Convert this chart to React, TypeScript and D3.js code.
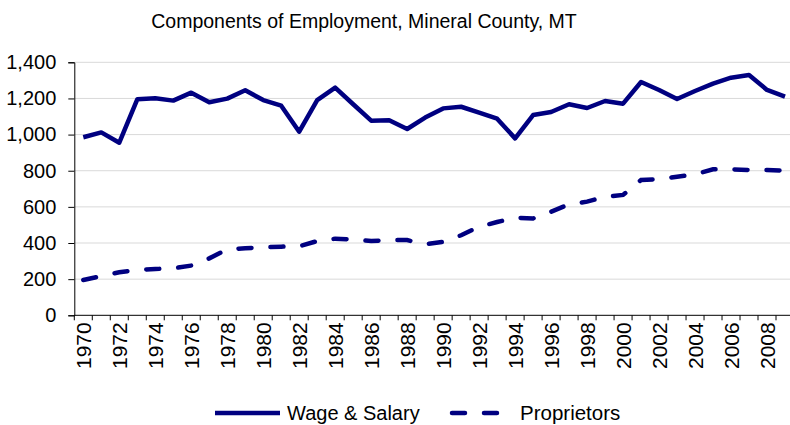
import { useEffect, useRef } from "react";
import * as d3 from "d3";

const years = d3.range(1970, 2010);

const wageSalary = [
  985, 1012, 955, 1195, 1201, 1188, 1232, 1179, 1199, 1245,
  1191, 1160, 1016, 1191, 1260, 1168, 1077, 1079, 1031, 1094,
  1145, 1154, 1121, 1088, 979, 1108, 1125, 1168, 1147, 1186,
  1171, 1291, 1247, 1197, 1241, 1282, 1315, 1330, 1247, 1210,
];

const proprietors = [
  195, 217, 238, 252, 256, 260, 275, 315, 365, 371,
  376, 380, 382, 411, 424, 420, 411, 416, 416, 393,
  407, 443, 490, 516, 540, 536, 573, 614, 629, 656,
  666, 749, 753, 767, 780, 808, 808, 804, 804, 800,
];

const yTicks = [0, 200, 400, 600, 800, 1000, 1200, 1400];

const title = "Components of Employment, Mineral County, MT";
const seriesNames = ["Wage & Salary", "Proprietors"];

const NAVY = "#000080";
const FONT = "'Liberation Sans', Arial, sans-serif";

function App() {
  const ref = useRef<SVGSVGElement>(null);

  useEffect(() => {
    const svg = d3.select(ref.current);
    svg.selectAll("*").remove();

    const left = 74.3,
      right = 794,
      top = 62.3,
      bottom = 315.3;

    const x = d3
      .scaleBand<number>()
      .domain(years)
      .range([left, right]);

    const y = d3.scaleLinear().domain([0, 1400]).range([bottom, top]);

    // title
    svg
      .append("text")
      .attr("x", 364)
      .attr("y", 28)
      .attr("text-anchor", "middle")
      .style("font-family", FONT)
      .style("font-size", "19.5px")
      .attr("fill", "#000")
      .text(title);

    // gridlines
    svg
      .append("g")
      .selectAll("line")
      .data(yTicks.filter((d) => d > 0))
      .enter()
      .append("line")
      .attr("x1", left)
      .attr("x2", right)
      .attr("y1", (d) => y(d))
      .attr("y2", (d) => y(d))
      .attr("stroke", "#d9d9d9")
      .attr("stroke-width", 1);

    // y axis
    const yAxis = svg
      .append("g")
      .attr("transform", `translate(${left},0)`)
      .call(d3.axisLeft(y).tickValues(yTicks).tickSize(6).tickPadding(12).tickFormat(d3.format(",")));
    yAxis.select(".domain").attr("stroke", "#000");
    yAxis.selectAll("line").attr("stroke", "#000");
    yAxis
      .selectAll("text")
      .style("font-family", FONT)
      .style("font-size", "20px")
      .attr("fill", "#000");

    // x axis: ticks at category boundaries
    const xg = svg.append("g");
    xg.append("line")
      .attr("x1", left)
      .attr("x2", right)
      .attr("y1", bottom)
      .attr("y2", bottom)
      .attr("stroke", "#000");
    xg.selectAll(".xtick")
      .data(years)
      .enter()
      .append("line")
      .attr("x1", (d) => x(d)!)
      .attr("x2", (d) => x(d)!)
      .attr("y1", bottom)
      .attr("y2", bottom + 5)
      .attr("stroke", "#000");
    xg.selectAll(".xlabel")
      .data(years.filter((d) => d % 2 === 0))
      .enter()
      .append("text")
      .attr(
        "transform",
        (d) => `translate(${x(d)! + x.bandwidth() / 2},${bottom + 7}) rotate(-90)`
      )
      .attr("text-anchor", "end")
      .attr("dy", "0.36em")
      .style("font-family", FONT)
      .style("font-size", "21px")
      .attr("fill", "#000")
      .text((d) => String(d));

    const line = d3
      .line<number>()
      .x((_, i) => x(years[i])! + x.bandwidth() / 2)
      .y((d) => y(d));

    svg
      .append("path")
      .datum(wageSalary)
      .attr("d", line)
      .attr("fill", "none")
      .attr("stroke", NAVY)
      .attr("stroke-width", 4.5)
      .attr("stroke-linejoin", "round");

    svg
      .append("path")
      .datum(proprietors)
      .attr("d", line)
      .attr("fill", "none")
      .attr("stroke", NAVY)
      .attr("stroke-width", 4.5)
      .attr("stroke-linecap", "round")
      .attr("stroke-dasharray", "13 19");

    // legend
    const lg = svg.append("g");
    lg.append("line")
      .attr("x1", 215)
      .attr("x2", 280)
      .attr("y1", 413)
      .attr("y2", 413)
      .attr("stroke", NAVY)
      .attr("stroke-width", 4.5);
    lg.append("text")
      .attr("x", 287)
      .attr("y", 420)
      .style("font-family", FONT)
      .style("font-size", "20px")
      .attr("fill", "#000")
      .text(seriesNames[0]);
    lg.append("line")
      .attr("x1", 452)
      .attr("x2", 498)
      .attr("y1", 413)
      .attr("y2", 413)
      .attr("stroke", NAVY)
      .attr("stroke-width", 4.5)
      .attr("stroke-linecap", "round")
      .attr("stroke-dasharray", "13 19");
    lg.append("text")
      .attr("x", 520)
      .attr("y", 420)
      .style("font-family", FONT)
      .style("font-size", "20.5px")
      .attr("fill", "#000")
      .text(seriesNames[1]);
  }, []);

  return (
    <svg
      ref={ref}
      width={790}
      height={425}
      style={{ position: "absolute", left: 0, top: 0, background: "#fff" }}
    />
  );
}

export default App;
